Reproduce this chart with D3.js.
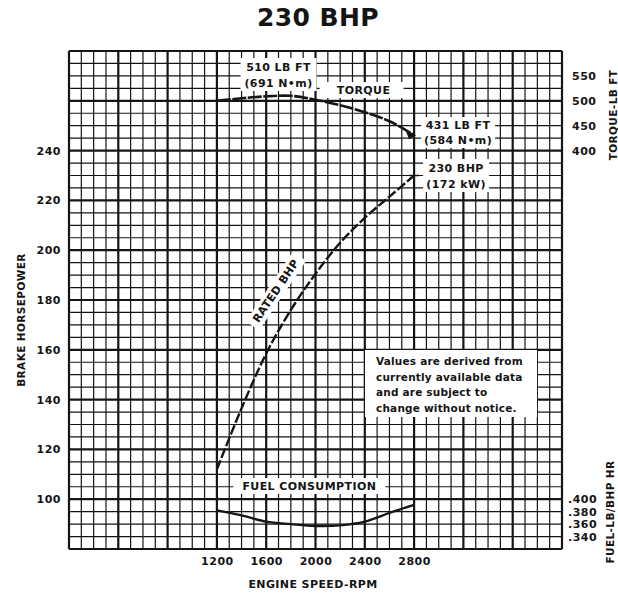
<!DOCTYPE html>
<html>
<head>
<meta charset="utf-8">
<script src="https://cdn.jsdelivr.net/npm/d3@7/dist/d3.min.js"></script>
<style>
  body { margin: 0; background: #fff; }
  text { font-family: "DejaVu Sans", sans-serif; font-weight: bold; fill: #151515; }
</style>
</head>
<body>
<div id="chart"></div>
<script>
// data
const rpm = [1200, 1400, 1600, 1800, 2000, 2200, 2400, 2600, 2800];
const bhp = [112, 136.5, 158.5, 176, 190.5, 203, 213, 221.5, 230];
const torque = [500, 505, 509, 510, 502, 491, 477, 459, 431];
const fuel = [0.382, 0.374, 0.364, 0.360, 0.357, 0.358, 0.364, 0.378, 0.391];

const rpmTicks = [1200, 1600, 2000, 2400, 2800];
const hpTicks = [100, 120, 140, 160, 180, 200, 220, 240];
const torqueTicks = [400, 450, 500, 550];
const fuelTicks = [0.40, 0.38, 0.36, 0.34];

const W = 618, H = 594;
const INK = "#151515";

const svg = d3.select("#chart").append("svg")
  .attr("width", W).attr("height", H)
  .style("display", "block");

// scales: grid spans 0-4000 rpm and 80-280 hp
const x = d3.scaleLinear().domain([0, 4000]).range([69, 562]);
const y = d3.scaleLinear().domain([80, 280]).range([549, 51]);
// right hand scales hang off the hp grid
const yT = d3.scaleLinear().domain([400, 500]).range([y(240), y(260)]);
const yF = d3.scaleLinear().domain([0.34, 0.40]).range([y(85), y(100)]);

// grid
const grid = svg.append("g");
grid.selectAll("line.v").data(d3.range(0, 4001, 100)).enter().append("line")
  .attr("x1", d => x(d)).attr("x2", d => x(d))
  .attr("y1", y(80)).attr("y2", y(280))
  .attr("stroke", INK)
  .attr("stroke-width", d => d % 400 === 0 ? 2.2 : 1.2);
grid.selectAll("line.h").data(d3.range(80, 281, 5)).enter().append("line")
  .attr("y1", d => y(d)).attr("y2", d => y(d))
  .attr("x1", x(0)).attr("x2", x(4000))
  .attr("stroke", INK)
  .attr("stroke-width", d => d % 20 === 0 ? 2.2 : 1.2);

// axes (labels only)
function styleAxis(g) {
  g.select(".domain").remove();
  g.selectAll("text")
    .attr("font-family", "DejaVu Sans, sans-serif")
    .attr("font-weight", "bold")
    .attr("font-size", 11)
    .attr("letter-spacing", 0.5)
    .attr("fill", INK);
}

svg.append("g")
  .attr("transform", `translate(${x(0)},0)`)
  .call(d3.axisLeft(y).tickValues(hpTicks).tickSize(0).tickPadding(8))
  .call(styleAxis);

svg.append("g")
  .attr("transform", `translate(0,${y(80)})`)
  .call(d3.axisBottom(x).tickValues(rpmTicks).tickSize(0).tickPadding(8)
    .tickFormat(d3.format("d")))
  .call(styleAxis);

svg.append("g")
  .attr("transform", `translate(${x(4000)},0)`)
  .call(d3.axisRight(yT).tickValues(torqueTicks).tickSize(0).tickPadding(10))
  .call(styleAxis);

svg.append("g")
  .attr("transform", `translate(${x(4000)},0)`)
  .call(d3.axisRight(yF).tickValues(fuelTicks).tickSize(0).tickPadding(6)
    .tickFormat(d => d3.format(".3f")(d).slice(1)))
  .call(styleAxis);

// white label patches
function patch(x0, y0, w, h, rot) {
  svg.append("rect").attr("x", x0).attr("y", y0).attr("width", w).attr("height", h)
    .attr("fill", "#fff")
    .attr("transform", rot ? `rotate(${rot[0]},${rot[1]},${rot[2]})` : null);
}
patch(x(1700) - 38, 58, 76, 33);
patch(x(2390) - 44, 82, 84, 16);
patch(x(2800) + 7, 117, 74, 31);
patch(x(2800) + 9, 159, 66, 33);
patch(365, 350, 172, 67);
patch(x(1950) - 76, 478, 152, 16);
patch(276 - 42, 291 - 8, 84, 16, [-56, 276, 291]);

// curves
const line = (ys, vals) => d3.line()
  .x((d, i) => x(rpm[i]))
  .y((d, i) => ys(vals[i]))
  .curve(d3.curveCatmullRom)(rpm);

svg.append("path").attr("d", line(yT, torque))
  .attr("fill", "none").attr("stroke", INK).attr("stroke-width", 2.6)
  .attr("stroke-dasharray", "14,1.5");

svg.append("path").attr("d", line(y, bhp))
  .attr("fill", "none").attr("stroke", INK).attr("stroke-width", 2.4)
  .attr("stroke-dasharray", "10,2.5");

svg.append("path").attr("d", line(yF, fuel))
  .attr("fill", "none").attr("stroke", INK).attr("stroke-width", 2.4);

// end markers
const endX = x(rpm[rpm.length - 1]);
svg.append("path")
  .attr("d", `M${endX - 9},${yT(431) - 6} L${endX + 2},${yT(431)} L${endX - 5},${yT(431) + 4} Z`)
  .attr("fill", INK);
svg.append("path")
  .attr("d", `M${endX - 5},${y(230)} H${endX + 5} M${endX},${y(230) - 5} V${y(230) + 5}`)
  .attr("stroke", INK).attr("stroke-width", 1.6);

// text
function label(t, tx, ty, opts = {}) {
  return svg.append("text")
    .attr("x", tx).attr("y", ty)
    .attr("text-anchor", opts.anchor || "middle")
    .attr("dominant-baseline", "central")
    .attr("font-size", opts.size || 11)
    .attr("letter-spacing", opts.ls == null ? 0.4 : opts.ls)
    .attr("transform", opts.rotate ? `rotate(${opts.rotate},${tx},${ty})` : null)
    .text(t);
}

label("230 BHP", 318, 17, { size: 25, ls: 0.4 });

label("510 LB FT", x(1700), 67);
label("(691 N\u2022m)", x(1700), 83);
label("TORQUE", x(2390), 90);
label("431 LB FT", x(2800) + 44, 125);
label("(584 N\u2022m)", x(2800) + 44, 140);
label("230 BHP", x(2800) + 42, 168);
label("(172 kW)", x(2800) + 42, 184);
label("RATED BHP", 276, 291, { rotate: -56 });
label("FUEL CONSUMPTION", x(1950), 486);

const note = ["Values are derived from", "currently available data",
  "and are subject to", "change without notice."];
note.forEach((t, i) => label(t, 376, 361 + i * 15.5, { anchor: "start", size: 10.5, ls: 0.2 }));

label("BRAKE HORSEPOWER", 21, 320, { rotate: -90, size: 10.5 });
label("ENGINE SPEED-RPM", 313, 584);
label("TORQUE-LB FT", 613, 115, { rotate: -90, size: 10.5 });
label("FUEL-LB/BHP HR", 610, 512, { rotate: -90, size: 10.5 });
</script>
</body>
</html>
